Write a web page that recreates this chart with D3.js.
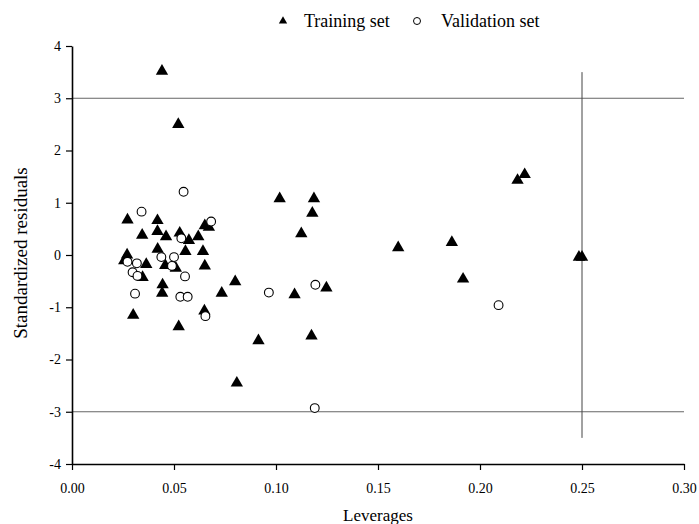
<!DOCTYPE html>
<html>
<head>
<meta charset="utf-8">
<script src="https://cdn.jsdelivr.net/npm/d3@7"></script>
<style>
    body { margin: 0; background: #fff; }
    svg { font-family: "Liberation Serif", "Times New Roman", serif; }
</style>
</head>
<body>
<div class="chart"></div>
<script>
// leverage (x) and standardized residual (y) for each set
const trainLeverage = [0.0441, 0.0521, 0.0272, 0.0419, 0.0344, 0.0419, 0.0461, 0.0528, 0.0573, 0.0619,
    0.0651, 0.0671, 0.0270, 0.0256, 0.0364, 0.0346, 0.0420, 0.0457, 0.0509, 0.0556,
    0.0642, 0.0651, 0.0444, 0.0442, 0.0300, 0.0523, 0.0649, 0.0734, 0.0800, 0.0808,
    0.0914, 0.1018, 0.1091, 0.1124, 0.1178, 0.1186, 0.1174, 0.1247, 0.1599, 0.1862,
    0.1917, 0.2184, 0.2219, 0.2485, 0.2500]
const trainResidual = [3.52, 2.50, 0.67, 0.66, 0.38, 0.45, 0.35, 0.42, 0.28, 0.35,
    0.56, 0.53, 0.00, -0.11, -0.18, -0.43, 0.11, -0.20, -0.25, 0.07,
    0.07, -0.21, -0.57, -0.73, -1.15, -1.37, -1.07, -0.73, -0.51, -2.45,
    -1.64, 1.08, -0.76, 0.41, 0.80, 1.08, -1.55, -0.63, 0.14, 0.24,
    -0.46, 1.43, 1.54, -0.04, -0.04]

const validLeverage = [0.0547, 0.0341, 0.0682, 0.0536, 0.0272, 0.0318, 0.0297, 0.0321, 0.0309, 0.0438,
    0.0500, 0.0490, 0.0554, 0.0531, 0.0567, 0.0654, 0.0965, 0.1193, 0.1190, 0.2091]
const validResidual = [1.21, 0.83, 0.64, 0.32, -0.13, -0.16, -0.33, -0.40, -0.74, -0.04,
    -0.04, -0.21, -0.41, -0.80, -0.80, -1.17, -0.72, -0.57, -2.93, -0.96]

const xTicks = [0, 0.05, 0.10, 0.15, 0.20, 0.25, 0.30]
const yTicks = [-4, -3, -2, -1, 0, 1, 2, 3, 4]
const residualLimits = [-3, 3]   // horizontal warning lines
const leverageLimit = 0.25       // h* vertical line
const leverageLimitSpan = [-3.5, 3.5]

const width = 699,
    height = 524
const margin = { top: 46, right: 15, bottom: 60, left: 72 }

const svg = d3.select(".chart")
    .append("svg")
    .attr("width", width)
    .attr("height", height)

const x = d3.scaleLinear()
    .domain([0, 0.30])
    .range([margin.left, width - margin.right])

const y = d3.scaleLinear()
    .domain([-4, 4])
    .range([height - margin.bottom, margin.top])

// reference lines
svg.selectAll(".hline")
    .data(residualLimits)
    .join("line")
    .attr("x1", x(0))
    .attr("x2", x(0.30))
    .attr("y1", d => y(d))
    .attr("y2", d => y(d))
    .attr("stroke", "#666")
    .attr("stroke-width", 1)

svg.append("line")
    .attr("x1", x(leverageLimit))
    .attr("x2", x(leverageLimit))
    .attr("y1", y(leverageLimitSpan[1]))
    .attr("y2", y(leverageLimitSpan[0]))
    .attr("stroke", "#444")
    .attr("stroke-width", 1)

// axes
const xAxis = svg.append("g")
    .attr("transform", `translate(0, ${y(-4)})`)
    .call(d3.axisBottom(x).tickValues(xTicks).tickFormat(d3.format(".2f")).tickSize(6).tickSizeOuter(0))

const yAxis = svg.append("g")
    .attr("transform", `translate(${x(0)}, 0)`)
    .call(d3.axisLeft(y).tickValues(yTicks).tickFormat(d => String(d)).tickSize(6).tickPadding(5).tickSizeOuter(0))

for (const ax of [xAxis, yAxis]) {
    ax.select(".domain").attr("stroke", "#000").attr("stroke-width", 1.6)
    ax.selectAll(".tick line").attr("stroke", "#000").attr("stroke-width", 1.2)
    ax.selectAll(".tick text")
        .attr("fill", "#000")
        .style("font-family", "Liberation Serif, serif")
        .style("font-size", "14px")
}
xAxis.selectAll(".tick text").attr("dy", "1.45em")

// points
const train = trainLeverage.map((d, i) => [d, trainResidual[i]])
const valid = validLeverage.map((d, i) => [d, validResidual[i]])

const triangle = d3.symbol().type(d3.symbolTriangle).size(66)

svg.selectAll(".train")
    .data(train)
    .join("path")
    .attr("d", triangle)
    .attr("transform", d => `translate(${x(d[0])}, ${y(d[1])})`)
    .attr("fill", "#000")

svg.selectAll(".valid")
    .data(valid)
    .join("circle")
    .attr("cx", d => x(d[0]))
    .attr("cy", d => y(d[1]))
    .attr("r", 4.4)
    .attr("fill", "#fff")
    .attr("stroke", "#000")
    .attr("stroke-width", 1.1)

// axis titles
svg.append("text")
    .attr("x", (x(0) + x(0.30)) / 2)
    .attr("y", 521)
    .attr("text-anchor", "middle")
    .style("font-size", "17px")
    .text("Leverages")

svg.append("text")
    .attr("transform", `translate(27, ${(y(-4) + y(4)) / 2 - 2}) rotate(-90)`)
    .attr("text-anchor", "middle")
    .style("font-size", "19px")
    .text("Standardized residuals")

// legend
const legend = svg.append("g").attr("transform", "translate(283, 21)")
legend.append("path")
    .attr("d", d3.symbol().type(d3.symbolTriangle).size(30))
    .attr("fill", "#000")
legend.append("text")
    .attr("x", 21)
    .attr("y", 6)
    .style("font-size", "18px")
    .text("Training set")
legend.append("circle")
    .attr("cx", 134)
    .attr("cy", 0)
    .attr("r", 3.5)
    .attr("fill", "#fff")
    .attr("stroke", "#000")
    .attr("stroke-width", 1)
legend.append("text")
    .attr("x", 158)
    .attr("y", 6)
    .style("font-size", "18px")
    .text("Validation set")
</script>
</body>
</html>
